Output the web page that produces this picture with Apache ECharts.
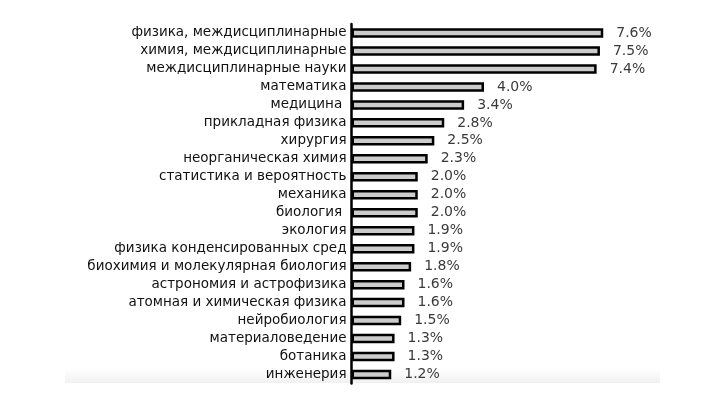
<!DOCTYPE html>
<html>
<head>
<meta charset="utf-8">
<script src="https://cdn.jsdelivr.net/npm/echarts@6/dist/echarts.min.js"></script>
<style>
html,body{margin:0;padding:0;background:#fff;}
#chart{width:720px;height:409px;}
</style>
</head>
<body>
<div id="chart"></div>
<script>
const categories = [
  "физика, междисциплинарные",
  "химия, междисциплинарные",
  "междисциплинарные науки",
  "математика",
  "медицина ",
  "прикладная физика",
  "хирургия",
  "неорганическая химия",
  "статистика и вероятность",
  "механика",
  "биология ",
  "экология",
  "физика конденсированных сред",
  "биохимия и молекулярная биология",
  "астрономия и астрофизика",
  "атомная и химическая физика",
  "нейробиология",
  "материаловедение",
  "ботаника",
  "инженерия"
];
const shares = [7.6, 7.5, 7.4, 4.0, 3.4, 2.8, 2.5, 2.3, 2.0, 2.0, 2.0, 1.9, 1.9, 1.8, 1.6, 1.6, 1.5, 1.3, 1.3, 1.2];

const chart = echarts.init(document.getElementById('chart'), null, {renderer: 'canvas'});
chart.setOption({
  backgroundColor: '#ffffff',
  animation: false,
  graphic: [{
    type: 'rect',
    z: 0,
    shape: {x: 65, y: 368, width: 595, height: 15},
    style: {
      fill: new echarts.graphic.LinearGradient(0, 0, 0, 1, [
        {offset: 0, color: 'rgba(244,244,244,0)'},
        {offset: 1, color: 'rgba(240,240,240,1)'}
      ])
    },
    silent: true
  }],
  grid: {left: 351.5, right: 103.5, top: 24, bottom: 25.5, containLabel: false},
  xAxis: {
    type: 'value',
    min: 0,
    max: 8,
    show: false
  },
  yAxis: {
    type: 'category',
    inverse: true,
    data: categories,
    axisLine: {show: true, lineStyle: {color: '#000', width: 2.5}},
    axisTick: {show: true, inside: true, length: 6, alignWithLabel: true, interval: 0, lineStyle: {color: '#222', width: 1.5}},
    axisLabel: {
      interval: 0,
      color: '#111',
      fontFamily: 'DejaVu Sans',
      fontSize: 13.5,
      margin: 5
    },
    splitLine: {show: false}
  },
  series: [{
    type: 'bar',
    data: shares,
    barWidth: 9.5,
    z: 1,
    itemStyle: {color: '#cccccc', borderColor: '#000', borderWidth: 2.5},
    label: {
      show: true,
      position: 'right',
      distance: 13,
      color: '#3a3a3a',
      fontFamily: 'DejaVu Sans',
      fontSize: 14,
      formatter: p => p.value.toFixed(1) + '%'
    }
  }]
});
</script>
</body>
</html>
